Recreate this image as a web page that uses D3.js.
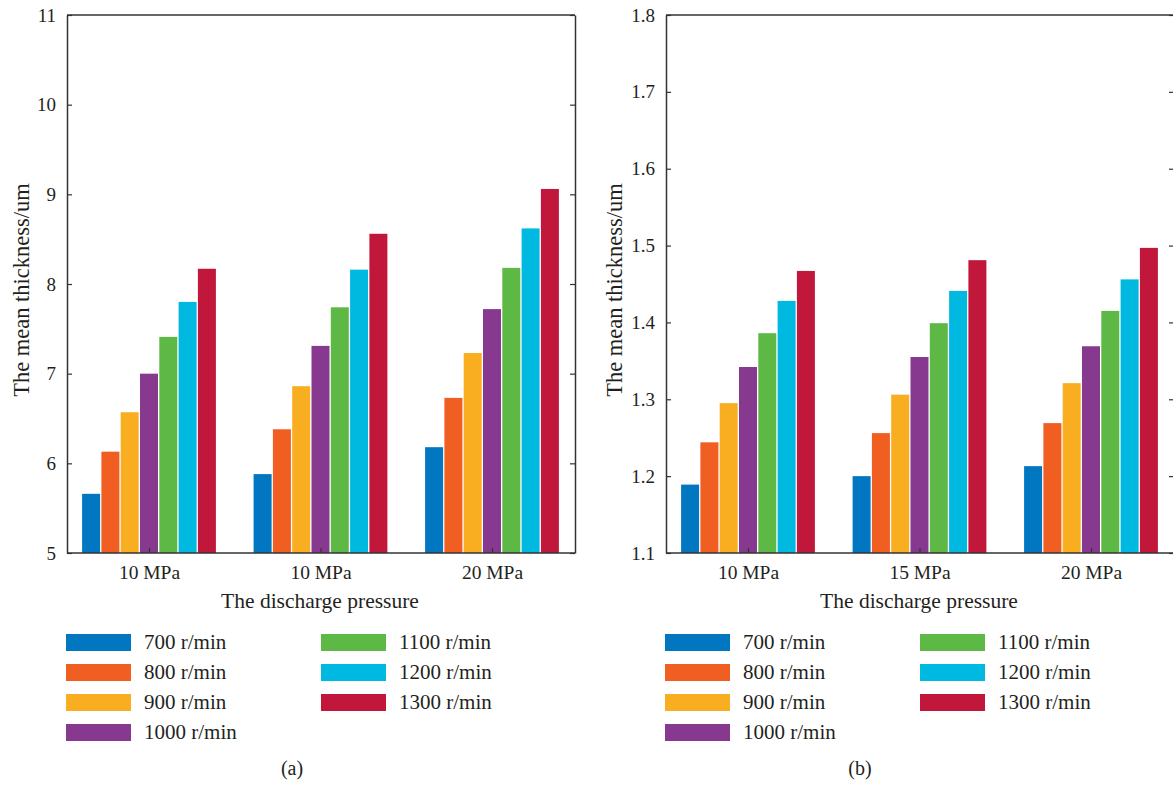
<!DOCTYPE html>
<html><head><meta charset="utf-8">
<script src="https://cdn.jsdelivr.net/npm/d3@7"></script>
<style>body{margin:0;background:#fff}svg{display:block}</style>
</head><body><svg id="c" width="1173" height="786"></svg>
<script>
const FONT = "'Times New Roman', 'Liberation Serif', Tinos, 'DejaVu Serif', serif";
const seriesNames = ["700 r/min","800 r/min","900 r/min","1000 r/min","1100 r/min","1200 r/min","1300 r/min"];
const seriesColors = ["#0077C0","#F15E22","#F9AD20","#87398F","#5DB845","#00B9E0","#C1173A"];
const categoriesA = ["10 MPa","10 MPa","20 MPa"];
const categoriesB = ["10 MPa","15 MPa","20 MPa"];
// values[series][group]
const valuesA = [
  [5.66,5.88,6.18],
  [6.13,6.38,6.73],
  [6.57,6.86,7.23],
  [7.00,7.31,7.72],
  [7.41,7.74,8.18],
  [7.80,8.16,8.62],
  [8.17,8.56,9.06]
];
const valuesB = [
  [1.189,1.200,1.213],
  [1.244,1.256,1.269],
  [1.295,1.306,1.321],
  [1.342,1.355,1.369],
  [1.386,1.399,1.415],
  [1.428,1.441,1.456],
  [1.467,1.481,1.497]
];
const yTicksA = [5,6,7,8,9,10,11];
const yTicksB = [1.1,1.2,1.3,1.4,1.5,1.6,1.7,1.8];

const svg = d3.select("#c").style("font-family", FONT);

function styleText(sel, size){
  sel.style("font-family", FONT).style("font-size", size + "px").attr("fill","#231f20");
}

function panel(opt){
  const g = svg.append("g");
  const L = opt.left, R = opt.left + 508, T = 15, B = 553;
  const x = d3.scaleLinear().domain([1,3]).range([L+82, L+425]);
  const y = d3.scaleLinear().domain(opt.yDomain).range([B, T]);
  const step = 19.3, bw = 18;
  opt.values.forEach((vals, si) => {
    g.selectAll(null).data(vals).enter().append("rect")
      .attr("x", (d,i) => x(i+1) + (si-3)*step - bw/2)
      .attr("y", d => y(d))
      .attr("width", bw)
      .attr("height", d => B - y(d))
      .attr("fill", seriesColors[si]);
  });
  const ya = g.append("g").attr("transform",`translate(${L},0)`)
    .call(d3.axisLeft(y).tickValues(opt.yTicks).tickSizeInner(-5).tickSizeOuter(0).tickPadding(11).tickFormat(opt.fmt));
  ya.select(".domain").attr("stroke","#333").attr("stroke-width",1.5);
  ya.selectAll(".tick line").attr("stroke","#333").attr("stroke-width",1.2);
  styleText(ya.selectAll("text"), 19);
  const yr = g.append("g").attr("transform",`translate(${R},0)`)
    .call(d3.axisRight(y).tickValues(opt.yTicks).tickSizeInner(-5).tickSizeOuter(0).tickFormat(""));
  yr.select(".domain").attr("stroke","#333").attr("stroke-width",1.5);
  yr.selectAll(".tick line").attr("stroke","#333").attr("stroke-width",1.2);
  g.append("line").attr("x1",L).attr("x2",R).attr("y1",T).attr("y2",T).attr("stroke","#333").attr("stroke-width",1.5);
  const xa = g.append("g").attr("transform",`translate(0,${B})`)
    .call(d3.axisBottom(x).tickValues([1,2,3]).tickSizeInner(-5).tickSizeOuter(0).tickPadding(12).tickFormat((d)=>opt.cats[d-1]));
  xa.select(".domain").attr("d",`M${L},0H${R}`).attr("stroke","#333").attr("stroke-width",1.5);
  xa.selectAll(".tick line").attr("stroke","#333").attr("stroke-width",1.2);
  styleText(xa.selectAll("text"), 19.5);
  styleText(g.append("text").attr("x",(L+R)/2 - 1).attr("y",608).attr("text-anchor","middle").text("The discharge pressure"), 21.5);
  styleText(g.append("text").attr("transform",`translate(${opt.titleX},${(T+B)/2 + 6}) rotate(-90)`).attr("text-anchor","middle").text("The mean thickness/um"), 22.5);
  seriesNames.forEach((n, i) => {
    const col = i < 4 ? 0 : 1, row = i < 4 ? i : i-4;
    const sx = L - 1 + col*255, sy = 634 + row*30;
    g.append("rect").attr("x",sx).attr("y",sy).attr("width",65).attr("height",17).attr("fill",seriesColors[i]);
    styleText(g.append("text").attr("x",sx+78).attr("y",sy+15).text(n), 21);
  });
  styleText(g.append("text").attr("x",opt.labelX).attr("y",775).attr("text-anchor","middle").text(opt.label), 20);
}

panel({left:67, yDomain:[5,11], yTicks:yTicksA, values:valuesA, cats:categoriesA, fmt:d3.format("d"), label:"(a)", labelX:292, titleX:29});
panel({left:666, yDomain:[1.1,1.8], yTicks:yTicksB, values:valuesB, cats:categoriesB, fmt:d3.format(".1f"), label:"(b)", labelX:860, titleX:622});
</script></body></html>
